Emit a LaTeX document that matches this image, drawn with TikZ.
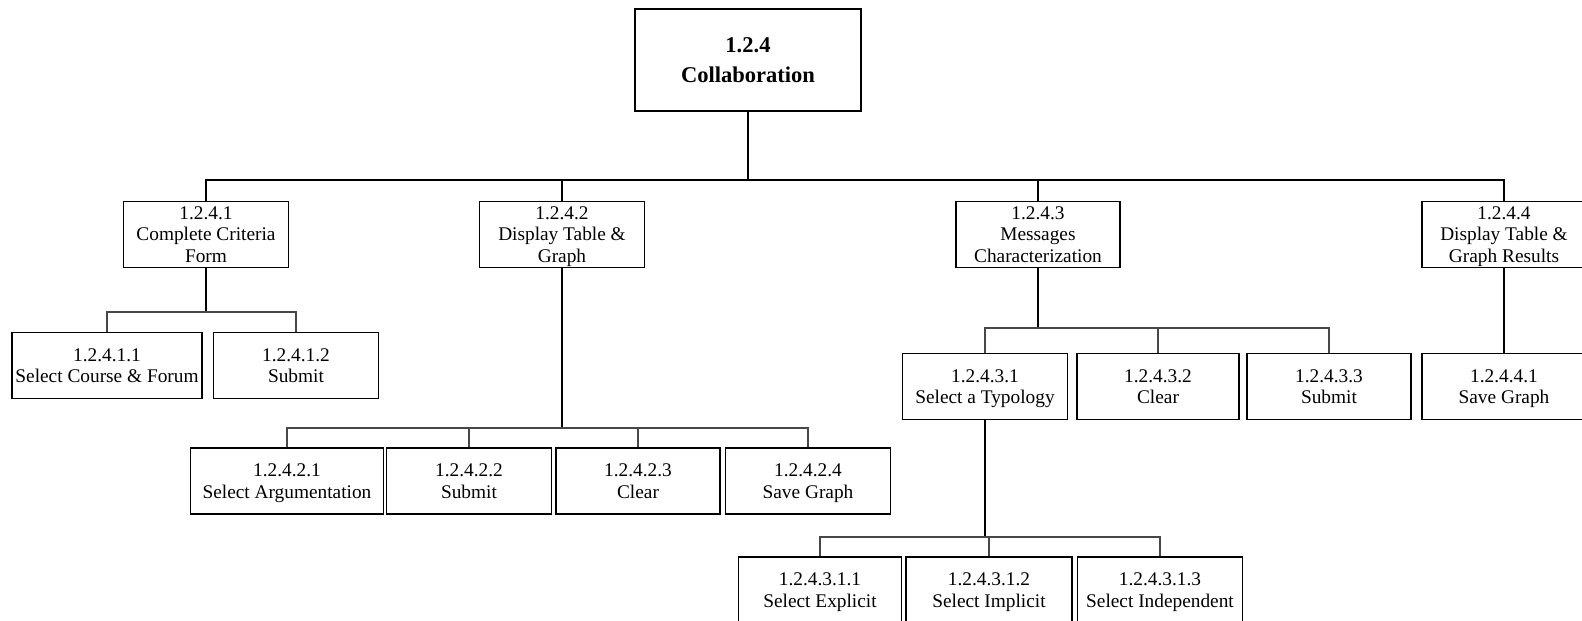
\documentclass[tikz,border=0pt]{standalone}
\usepackage{fontspec}
\setmainfont{Liberation Serif}
\begin{document}
\begin{tikzpicture}[x=0.75pt,y=-0.75pt,
  box/.style={draw=black,line width=1.1pt,rectangle,inner sep=0pt,
    minimum height=49.5pt,align=center,fill=white,
    font=\fontsize{14.5}{16.1}\selectfont,text depth=0pt},
  bw/.style={minimum width=#1*0.75pt},
  rootbox/.style={draw=black,line width=1.1pt,rectangle,inner sep=0pt,
    align=center,minimum width=169.5pt,minimum height=76.5pt,
    font=\fontsize{16.9}{22.5}\selectfont\bfseries},
  stem/.style={line width=1.4pt,black},
  bus/.style={line width=0.9pt,black!72},
  topbus/.style={line width=1pt,black}]
\useasboundingbox (0,0) rectangle (1582,621);
\clip (0,0) rectangle (1582,621);

% bus levels
\coordinate (busA) at (0,180);
\coordinate (busB) at (0,312);
\coordinate (busC) at (0,428);
\coordinate (busD) at (0,328);
\coordinate (busE) at (0,537);

% root
\node[rootbox] (root) at (748,60) {1.2.4\\Collaboration};

% first level
\node[box,bw=165] (b1) at (206,234.5) {1.2.4.1\\Complete Criteria\\Form};
\node[box,bw=165] (b2) at (562,234.5) {1.2.4.2\\Display Table \&\\Graph};
\node[box,bw=164] (b3) at (1038,234.5) {1.2.4.3\\Messages\\Characterization};
\node[box,bw=164] (b4) at (1504,234.5) {1.2.4.4\\Display Table \&\\Graph Results};

% children of 1.2.4.1
\node[box,bw=190] (b11) at (107,365.5) {1.2.4.1.1\\Select Course \& Forum};
\node[box,bw=165] (b12) at (296,365.5) {1.2.4.1.2\\Submit};

% children of 1.2.4.2
\node[box,bw=193] (b21) at (287,481) {1.2.4.2.1\\Select Argumentation};
\node[box,bw=165] (b22) at (469,481) {1.2.4.2.2\\Submit};
\node[box,bw=164] (b23) at (638,481) {1.2.4.2.3\\Clear};
\node[box,bw=165] (b24) at (808,481) {1.2.4.2.4\\Save Graph};

% children of 1.2.4.3
\node[box,bw=165] (b31) at (985,386.5) {1.2.4.3.1\\Select a Typology};
\node[box,bw=162] (b32) at (1158,386.5) {1.2.4.3.2\\Clear};
\node[box,bw=164] (b33) at (1329,386.5) {1.2.4.3.3\\Submit};

% child of 1.2.4.4
\node[box,bw=164] (b41) at (1504,386.5) {1.2.4.4.1\\Save Graph};

% children of 1.2.4.3.1
\node[box,bw=163] (b311) at (820,590) {1.2.4.3.1.1\\Select Explicit};
\node[box,bw=166] (b312) at (989,590) {1.2.4.3.1.2\\Select Implicit};
\node[box,bw=165] (b313) at (1160,590) {1.2.4.3.1.3\\Select Independent};

% root to first level
\draw[stem] (root.south) -- (root.south |- busA);
\draw[topbus] (b1.north) -- (b1.north |- busA) -- (b4.north |- busA) -- (b4.north);
\draw[topbus] (b2.north) -- (b2.north |- busA);
\draw[topbus] (b3.north) -- (b3.north |- busA);

% 1.2.4.1 branch
\draw[stem] (b1.south) -- (b1.south |- busB);
\draw[bus] (b11.north) -- (b11.north |- busB) -- (b12.north |- busB) -- (b12.north);

% 1.2.4.2 branch
\draw[stem] (b2.south) -- (b2.south |- busC);
\draw[bus] (b21.north) -- (b21.north |- busC) -- (b24.north |- busC) -- (b24.north);
\draw[bus] (b22.north) -- (b22.north |- busC);
\draw[bus] (b23.north) -- (b23.north |- busC);

% 1.2.4.3 branch
\draw[stem] (b3.south) -- (b3.south |- busD);
\draw[bus] (b31.north) -- (b31.north |- busD) -- (b33.north |- busD) -- (b33.north);
\draw[bus] (b32.north) -- (b32.north |- busD);

% 1.2.4.4 branch
\draw[stem] (b4.south) -- (b41.north);

% 1.2.4.3.1 branch
\draw[stem] (b31.south) -- (b31.south |- busE);
\draw[bus] (b311.north) -- (b311.north |- busE) -- (b313.north |- busE) -- (b313.north);
\draw[bus] (b312.north) -- (b312.north |- busE);
\end{tikzpicture}
\end{document}
